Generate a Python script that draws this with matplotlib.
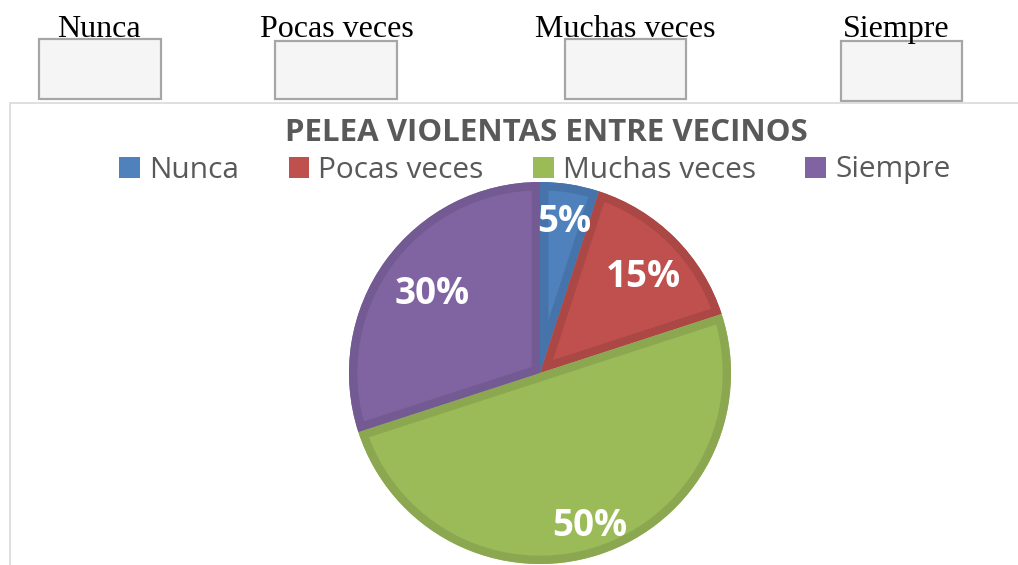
import numpy as np
import matplotlib
matplotlib.use("Agg")
import matplotlib.pyplot as plt
from matplotlib.patches import Rectangle, Wedge, Patch

# ---- data ----
categories = ["Nunca", "Pocas veces", "Muchas veces", "Siempre"]
values = [5, 15, 50, 30]
title = "PELEA VIOLENTAS ENTRE VECINOS"
header_labels = ["Nunca", "Pocas veces", "Muchas veces", "Siempre"]

# ---- style ----
fills = ["#4F81BD", "#C0504D", "#9BBB59", "#8064A2"]
borders = ["#4673A9", "#AB4845", "#8BA851", "#735A92"]
label_dist = [0.80, 0.74, 0.845, 0.70]
label_shift = [0, 2, 0, 0]  # degrees clockwise

W, H = 1018, 565
fig = plt.figure(figsize=(W / 100, H / 100), dpi=100)
fig.patch.set_facecolor("white")

def fx(x): return x / W
def fy(y): return 1 - y / H

# header labels and boxes
header_x = [99, 337, 625, 896]
box_x = [(39, 161, 39, 99), (275, 397, 41, 99), (565, 686, 39, 99), (841, 962, 41, 101)]
for lab, cxh in zip(header_labels, header_x):
    fig.text(fx(cxh), fy(37), lab, ha="center", va="baseline",
             fontsize=23, family="Liberation Serif", color="black")
for (x0, x1, y0, y1) in box_x:
    fig.patches.append(Rectangle((fx(x0), fy(y1)), fx(x1 - x0), (y1 - y0) / H,
                                 transform=fig.transFigure, facecolor="#F5F5F5",
                                 edgecolor="#A6A6A6", linewidth=1.6))

# chart area border
fig.patches.append(Rectangle((fx(10), fy(600)), fx(1100), (600 - 103) / H,
                             transform=fig.transFigure, facecolor="none",
                             edgecolor="#D9D9D9", linewidth=1.2, clip_on=False))

# title
fig.text(fx(546), fy(133), title, ha="center", va="center", fontsize=22.5,
         fontweight="bold", family="Open Sans", color="#595959")

# pie axes
cx, cy, R = 540, 373, 191
ax = fig.add_axes([fx(cx - R), (H - cy - R) / H, 2 * R / W, 2 * R / H])
wedges, _ = ax.pie(values, colors=fills, startangle=90, counterclock=False,
                   radius=1, wedgeprops=dict(linewidth=0, edgecolor="none"))
ax.set_xlim(-1, 1)
ax.set_ylim(-1, 1)
ax.axis("off")
for w, bc in zip(wedges, borders):
    w.set_clip_on(False)
    ring = Wedge(w.center, w.r, w.theta1, w.theta2, facecolor="none",
                 edgecolor=bc, linewidth=12)
    ax.add_patch(ring)
    ring.set_clip_path(w)

total = sum(values)
for w, v, d, s in zip(wedges, values, label_dist, label_shift):
    mid = np.deg2rad((w.theta1 + w.theta2) / 2 - s)
    ax.text(d * np.cos(mid), d * np.sin(mid), f"{round(100 * v / total)}%",
            ha="center", va="center", color="white", fontsize=26.5,
            fontweight="bold", family="Open Sans")

# legend
handles = [Patch(facecolor=c, edgecolor="none") for c in fills]
leg = fig.legend(handles, categories, loc="center", bbox_to_anchor=(fx(535), fy(170)),
                 ncol=4, frameon=False, prop=dict(family="Open Sans", size=21.5),
                 handlelength=0.7, handleheight=0.7, handletextpad=0.3,
                 columnspacing=1.65, labelcolor="#595959")

fig.savefig("out.png", dpi=100, facecolor="white")
